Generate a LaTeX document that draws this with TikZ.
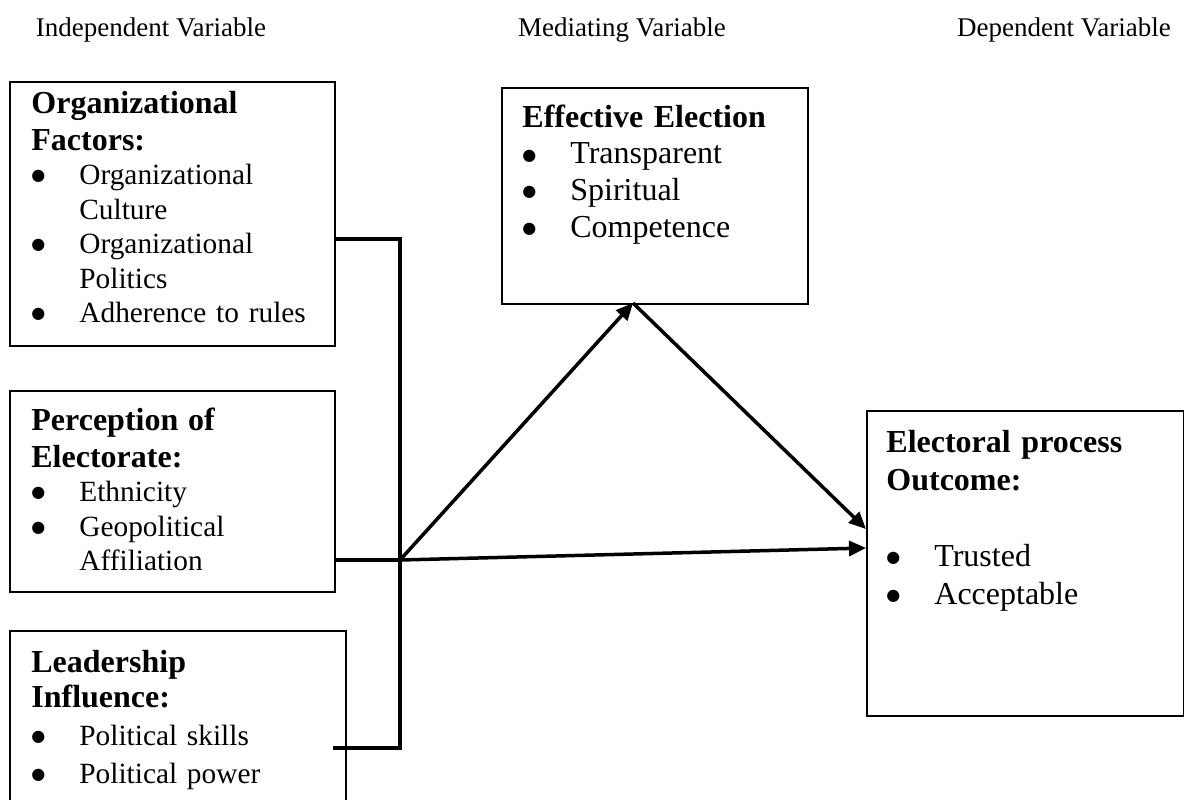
\documentclass[tikz,border=0pt]{standalone}
\usepackage{fontspec}
\setmainfont{Liberation Serif}
\newfontfamily\dotfont{DejaVu Sans}
\usetikzlibrary{arrows.meta}

\newcommand{\bul}{\makebox[24pt][l]{\raisebox{1.8pt}{\dotfont\fontsize{8}{8}\selectfont ●}}}
\newcommand{\cont}{\hspace*{24pt}}

\begin{document}
\begin{tikzpicture}[x=0.5pt, y=-0.5pt,
    frame/.style ={draw, line width=1pt, anchor=north west, inner sep=0pt},
    boxtext/.style ={anchor=base west, inner sep=0pt, text width=150pt, align=left,
      font=\fontsize{14.67}{17.25}\selectfont},
    colhead/.style ={anchor=base, inner sep=0pt, font=\fontsize{13.5}{15}\selectfont},
    wire/.style ={line width=1.75pt},
    link/.style ={line width=1.75pt, -{Triangle[length=8.5pt, width=7.5pt]}}]
   \clip (0,0) rectangle (1184,799);
   \useasboundingbox (0,0) rectangle (1184,799);
   % column titles
   \node[colhead] (indep) at (151,36) {Independent Variable};
   \node[colhead] (medi) at (622,36) {Mediating Variable};
   \node[colhead] (dep) at (1064,36) {Dependent Variable};
   % boxes
   \node[frame, minimum width=162.5pt, minimum height=132pt] (org) at (9,81) {};
   \node[frame, minimum width=162.5pt, minimum height=100.5pt] (perc) at (9,390) {};
   \node[frame, minimum width=168pt, minimum height=100pt] (lead) at (9,630) {};
   \node[frame, minimum width=153pt, minimum height=108pt] (eff) at (501,87) {};
   \node[frame, minimum width=158.5pt, minimum height=152.5pt] (out) at (866,410) {};
   % box texts
   \node[boxtext] (orgtxt) at (31,113) {%
     {\bfseries\fontsize{16}{18.5}\selectfont Organizational\newline Factors:\par}
     \bul Organizational\newline\cont Culture\par
     \bul Organizational\newline\cont Politics\par
     \bul Adherence to rules};
   \node[boxtext] (perctxt) at (31,430) {%
     {\bfseries\fontsize{16}{18.5}\selectfont Perception of\newline Electorate:\par}
     \bul Ethnicity\par
     \bul Geopolitical\newline\cont Affiliation};
   \node[boxtext, font=\fontsize{14.67}{19}\selectfont] (leadtxt) at (31,672) {%
     {\bfseries\fontsize{16}{17.5}\selectfont Leadership\newline Influence:\par}
     \bul Political skills\par
     \bul Political power};
   \node[boxtext, font=\fontsize{16}{18.35}\selectfont] (efftxt) at (522,127) {%
     \textbf{Effective Election}\par
     \bul Transparent\par
     \bul Spiritual\par
     \bul Competence};
   \node[boxtext, font=\fontsize{16}{19}\selectfont] (outtxt) at (886,452) {%
     \textbf{Electoral process}\par
     \textbf{Outcome:}\par
     \mbox{}\par
     \bul Trusted\par
     \bul Acceptable};
   % connectors
   \coordinate (hub) at (400,560);
   \coordinate (bustop) at (400,239);
   \coordinate (busbot) at (400,748);
   \coordinate (leadtip) at (333,748);
   \coordinate (apex) at (633,303);
   \draw[wire] (org.east |- bustop) -- (bustop) -- (busbot) -- (leadtip);
   \draw[wire] (perc.east |- hub) -- (hub);
   \draw[link] (hub) -- (apex);
   \draw[link] (apex) -- ([yshift=17.25pt]out.west);
   \draw[link] (hub) -- ([yshift=7.75pt]out.west);
\end{tikzpicture}
\end{document}
